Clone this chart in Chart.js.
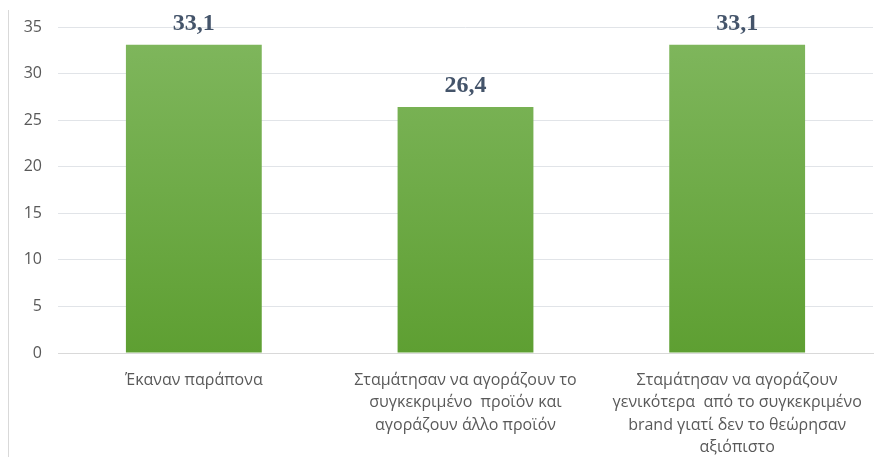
<!DOCTYPE html>
<html>
<head>
<meta charset="utf-8">
<script src="https://cdn.jsdelivr.net/npm/chart.js@4"></script>
<style>
  body { margin: 0; background: #fff; }
  #wrap { width: 883px; height: 457px; position: relative; }
</style>
</head>
<body>
<div id="wrap"><canvas id="myChart"></canvas></div>
<script>
const categories = [
    ['Έκαναν παράπονα'],
    ['Σταμάτησαν να αγοράζουν το', 'συγκεκριμένο  προϊόν και', 'αγοράζουν άλλο προϊόν'],
    ['Σταμάτησαν να αγοράζουν', 'γενικότερα  από το συγκεκριμένο', 'brand γιατί δεν το θεώρησαν', 'αξιόπιστο']
];
const values = [33.1, 26.4, 33.1];
const yTicks = [0, 5, 10, 15, 20, 25, 30, 35];

const ctx = document.getElementById('myChart');

// value labels above bars, comma decimal
const valueLabels = {
    id: 'valueLabels',
    afterDatasetsDraw(chart) {
        const c = chart.ctx;
        const meta = chart.getDatasetMeta(0);
        c.save();
        c.font = 'bold 24px "Liberation Serif", serif';
        c.fillStyle = '#44546A';
        c.textAlign = 'center';
        c.textBaseline = 'bottom';
        meta.data.forEach((bar, i) => {
            c.fillText(values[i].toFixed(1).replace('.', ','), bar.x, bar.y - 9);
        });
        c.restore();
    }
};

// thin frame line on the left
const frame = {
    id: 'frame',
    beforeDraw(chart) {
        const c = chart.ctx;
        c.save();
        c.strokeStyle = '#D9D9D9';
        c.lineWidth = 1;
        c.beginPath();
        c.moveTo(8.5, 10);
        c.lineTo(8.5, 457);
        c.stroke();
        c.restore();
    }
};

new Chart(ctx, {
    type: 'bar',
    data: {
        labels: categories,
        datasets: [{
            data: values,
            backgroundColor: function(context) {
                const area = context.chart.chartArea;
                if (!area) return '#6AAA3E';
                const g = context.chart.ctx.createLinearGradient(0, area.top, 0, area.bottom);
                g.addColorStop(0, '#80B75E');
                g.addColorStop(1, '#5E9F32');
                return g;
            },
            categoryPercentage: 1,
            barPercentage: 0.5
        }]
    },
    options: {
        responsive: true,
        maintainAspectRatio: false,
        animation: false,
        layout: { padding: { top: 27, right: 10, left: 0, bottom: 0 } },
        plugins: {
            legend: { display: false },
            tooltip: { enabled: false }
        },
        scales: {
            x: {
                grid: { display: false },
                border: { display: true, color: '#D9D9D9' },
                ticks: {
                    color: '#595959',
                    font: { family: '"Open Sans", sans-serif', size: 16, lineHeight: 1.4 },
                    padding: 8,
                    maxRotation: 0,
                    autoSkip: false
                },
                afterFit(scale) { scale.height = 104; }
            },
            y: {
                min: 0,
                max: 35,
                afterBuildTicks(scale) { scale.ticks = yTicks.map(v => ({ value: v })); },
                grid: { color: '#E1E4E8', drawTicks: false },
                border: { display: false },
                ticks: {
                    color: '#595959',
                    font: { family: '"Open Sans", sans-serif', size: 16 },
                    padding: 16
                },
                afterFit(scale) { scale.width = 58; }
            }
        }
    },
    plugins: [valueLabels, frame]
});
</script>
</body>
</html>
